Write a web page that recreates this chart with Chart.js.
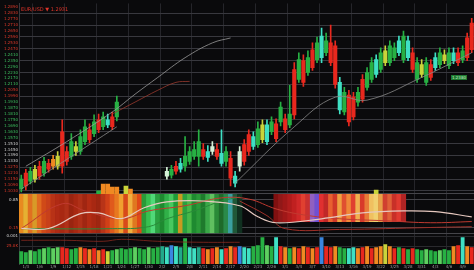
<!DOCTYPE html>
<html>
<head>
<meta charset="utf-8">
<script src="https://cdn.jsdelivr.net/npm/chart.js@4.4.0/dist/chart.umd.min.js"></script>
<style>
html, body { margin: 0; padding: 0; background: #0a0a0c; overflow: hidden; }
#wrap { position: relative; width: 474px; height: 270px; }
#tag { position: absolute; left: 21px; top: 6px; font: 5px "DejaVu Sans", sans-serif; color: #e0352a; white-space: nowrap; }
#last { position: absolute; left: 451px; top: 75px; font: 4px "DejaVu Sans", sans-serif; color: #c8f0c8;
    background: #1e7a30; padding: 0 1px; white-space: nowrap; }
</style>
</head>
<body>
<div id="wrap">
  <canvas id="chart" width="474" height="270"></canvas>
  <div id="tag">EUR/USD ▼ 1.2931</div>
  <div id="last">1.2380</div>
</div>
<script>
// categories: one per trading session
const categories = Array.from({ length: 100 }, (_, i) => {
    const d = new Date(2023, 0, 2 + i);
    return (d.getMonth() + 1) + "/" + d.getDate();
});

// candles (price units), null = no candle
const openP = [5, 21, 13, 15, 28, 21, 31, 28, 28, 63, 43, 38, 43, 43, 53, 65, 61, 75, 68, 70, 78, 78,
    null, null, null, null, null, null, null, null, null, null,
    18, 19, 28, 25, 28, 33, 38, 38, 45, 37, 43, 45, 31, 33, 36, 11, 28, 50, 60, 48,
    50, 55, 53, 63, 71, 73, 76, 70, 126, 116, 135, 123, 146, 136, 138, 143, 153, 150, 85, 83,
    100, 98, 93, 116, 108, 116, 121, 126, 133, 133, 138, 143, 136, 138, 143, 116, 121, 113, 131, 128,
    131, 135, 130, 135, 143, 136, 158, 173];
const closeP = [15, 8, 23, 25, 18, 33, 25, 35, 38, 28, 33, 53, 48, 58, 68, 55, 73, 65, 78, 75, 68, 93,
    null, null, null, null, null, null, null, null, null, null,
    23, 25, 23, 31, 38, 43, 45, 53, 38, 43, 48, 38, 41, 43, 16, 18, 43, 33, 43, 58,
    66, 70, 70, 73, 56, 88, 65, 81, 80, 136, 113, 138, 128, 153, 160, 155, 133, 111, 113, 103,
    73, 78, 103, 96, 123, 133, 136, 143, 145, 150, 148, 155, 160, 155, 126, 133, 131, 133, 118, 138,
    143, 141, 143, 143, 133, 145, 138, 146];
const highP = [19, 25, 27, 29, 33, 37, 35, 39, 43, 75, 48, 61, 53, 65, 75, 71, 80, 81, 83, 81, 83, 99,
    null, null, null, null, null, null, null, null, null, null,
    27, 29, 33, 36, 58, 48, 53, 65, 51, 49, 53, 51, 65, 48, 43, 23, 48, 55, 65, 63,
    73, 75, 75, 78, 76, 93, 81, 110, 133, 143, 141, 145, 153, 159, 168, 163, 171, 155, 118, 108,
    105, 103, 108, 121, 128, 138, 141, 148, 150, 155, 153, 160, 165, 160, 148, 138, 136, 138, 136, 143,
    148, 146, 148, 148, 148, 150, 163, 178];
const lowP = [2, 4, 10, 12, 15, 18, 22, 25, 25, 21, 29, 35, 39, 40, 50, 52, 58, 62, 65, 67, 65, 74,
    null, null, null, null, null, null, null, null, null, null,
    15, 16, 20, 22, 23, 30, 35, 28, 35, 33, 40, 35, 28, 28, 8, 7, 23, 29, 39, 45,
    47, 52, 50, 60, 53, 69, 62, 67, 76, 113, 109, 120, 125, 133, 133, 140, 130, 107, 81, 80,
    69, 75, 89, 93, 105, 113, 118, 123, 130, 130, 135, 140, 133, 135, 123, 113, 118, 110, 115, 125,
    128, 132, 127, 132, 130, 133, 135, 143];
const candleKind = ("GRGYRGROYRRGYGGRGRGCRG" + ".........." +
    "WGRCGGGGRC" + "WRCGRCWRRC" + "GYCGRGRGRG" + "RGRGCGRRCG" +
    "RRGRGGCGYG" + "GCGCRGYGRC" + "GYGCRGRR").split("");

// small bars sitting on the bottom of the price pane
const overlayIdx = [17, 18, 19, 20, 21, 23, 24, 78];
const overlayVal = [3, 10, 10, 7, 7, 8, 5, 4];
const overlayKind = ["G", "O", "O", "O", "O", "Y", "O", "Y"];

// moving average / channel lines: [category index, price]
const maUpper = [[1, 28], [10, 53], [20, 83], [25, 101], [30, 118], [36, 138], [42, 153], [46, 158]];
const maRed = [[20, 81], [25, 93], [30, 105], [34, 113], [37, 114]];
const supportLeft = [[0, 5], [10, 35], [21, 68]];
const supportRight = [[47, 11], [60, 68], [69, 98], [76, 95], [88, 118], [99, 143]];

// oscillator band (0..1)
const bandColors = ["#e88a20", "#e6b032", "#e07020", "#d89a28", "#e06a20", "#d04a18", "#c8401a", "#b83216", "#b02a14", "#a82812",
    "#b03018", "#9a2410", "#a82812", "#b03018", "#a02612", "#b22c14", "#a82812", "#9e2611", "#b83418", "#d04018",
    "#e05a1c", "#e87820", "#f0a030", "#d84a1a", "#f0b040", "#e07820", "#e04a18", "#2a9a38", "#38c050", "#50d878",
    "#2aa040", "#1e8a30", "#30b048", "#48c860", "#1e9a38", "#c89a20", "#2aa040", "#48b848", "#1e8a30", "#2a9a38",
    "#1e7a2c", "#3aa848", "#60c060", "#2a8a38", "#1e6a2a", "#2a8a4a", "#3aa0a0", "#205838", "#103020", null,
    null, null, null, null, null, null, "#801010", "#901818", "#a01818", "#b01c1c",
    "#c02020", "#d02828", "#e04030", "#c83030", "#9060c0", "#7050d0", "#e03030", "#c02828", "#e86030", "#d03828",
    "#f0a040", "#e05030", "#f08838", "#e04030", "#f0b050", "#d83a2a", "#e87a38", "#f0c060", "#f0d070", "#e8a048",
    "#d04030", "#e06038", "#c83028", "#e03a30", "#b02424", null, null, null, null, null,
    null, null, null, null, null, null, null, null, null, null];
const bandFloor = [0, 0.3];   // left block reaches the pane bottom, right block stops higher
const bandPale = [[0, .125], [6, .125], [13, .5], [17, .52], [22, .375], [27, .65], [32, .8], [40, .82], [48, .7],
    [52, .42], [56, .27], [66, .37], [75, .52], [84, .57], [91, .55], [99, .42]];
const bandRed = [[0, .125], [9, .75], [14, .57], [22, .37], [28, .57], [36, .7], [44, .9], [50, .87], [56, .62],
    [62, .47], [70, .37], [80, .32], [90, .27], [99, .3]];
const bandGreen = [[0, .12], [20, .12], [28, .17], [32, .37], [38, .57], [44, .82], [48, .92]];
const bandRed2 = [[48, .82], [54, .45], [58, .12], [70, .1], [90, .15], [99, .17]];

// volume
const volume = [13, 12, 14, 13, 15, 16, 17, 16, 17, 17, 16, 15, 16, 17, 16, 15, 16, 14, 15, 13,
    14, 15, 16, 15, 16, 17, 16, 15, 17, 16, 17, 18, 17, 19, 18, 17, 26, 17, 16, 17,
    16, 15, 16, 17, 15, 16, 18, 17, 18, 17, 16, 18, 19, 27, 19, 18, 27, 18, 17, 16,
    17, 16, 18, 17, 16, 17, 27, 18, 17, 18, 17, 16, 16, 17, 16, 17, 18, 16, 17, 18,
    20, 18, 16, 17, 16, 15, 16, 15, 14, 15, 14, 13, 14, 15, 14, 18, 19, 27, 18, 17];
const volumeKind = ("GGLGG" + "LGLL" + "RR" + "GG" + "OROROR" + "Y" + "GLGG" + "GLGGLGG" + "TCBCTG" + "CCT" +
    "ROROCROR" + "BCC" + "GGGLGC" + "RO" + "G" + "OROROR" + "B" + "RRO" + "GG" + "CC" + "ORORO" + "OYO" +
    "RGRGR" + "GGLGGLGG" + "ORCOR").split("");
const volumeLine = [[0, 24], [10, 24], [18, 23], [22, 25], [30, 23], [40, 22], [48, 22]];

const pal = { G: "#27b043", R: "#e8281e", C: "#3fe0c4", Y: "#c9d43a", O: "#f08a22", W: "#d6f2d8",
    L: "#5ed060", T: "#22a88a", B: "#3a86e0" };

const pts = arr => arr.map(p => ({ x: categories[p[0]], y: p[1] }));

function lineSet(data, color, axis, width) {
    return {
        type: "line", data: pts(data), yAxisID: axis, borderColor: color, borderWidth: width,
        pointRadius: 0, tension: 0.4, spanGaps: true, fill: false
    };
}

const tickFont = { family: "DejaVu Sans", size: 4 };

function priceColor(ctx) {
    const v = ctx.tick.value;
    if (v > 141) return "#e03a2a";
    if (v > 110) return "#3ec060";
    if (v > 96) return "#e03a2a";
    if (v > 52) return "#3ec060";
    if (v > 28) return "#d8d8d8";
    return "#e03a2a";
}

const ctx = document.getElementById("chart").getContext("2d");
new Chart(ctx, {
    data: {
        labels: categories,
        datasets: [
            lineSet(maUpper, "#9a9a9a", "price", 0.8),
            lineSet(maRed, "#9a3a2e", "price", 0.8),
            lineSet(supportLeft, "#8a8a8a", "price", 0.8),
            lineSet(supportRight, "#8a8a8a", "price", 0.8),
            lineSet(bandPale, "#e6c8bf", "band", 1.2),
            lineSet(bandRed, "#c03a30", "band", 1),
            lineSet(bandGreen, "#2a8a3a", "band", 1),
            lineSet(bandRed2, "#a03028", "band", 1),
            lineSet(volumeLine, "#8a2a20", "vol", 0.8),
            {
                type: "bar", yAxisID: "price", grouped: false, barThickness: 3.5,
                data: openP.map((o, i) => o === null ? null : [o, closeP[i]]),
                backgroundColor: candleKind.map(k => pal[k] || "transparent")
            },
            {
                type: "bar", yAxisID: "price", grouped: false, barThickness: 1,
                data: lowP.map((l, i) => l === null ? null : [l, highP[i]]),
                backgroundColor: candleKind.map(k => pal[k] || "transparent")
            },
            {
                type: "bar", yAxisID: "price", grouped: false, barThickness: 4,
                data: overlayIdx.map((idx, i) => ({ x: categories[idx], y: [0, overlayVal[i]] })),
                backgroundColor: overlayKind.map(k => pal[k])
            },
            {
                type: "bar", yAxisID: "band", grouped: false, barPercentage: 1, categoryPercentage: 1,
                data: bandColors.map((c, i) => c === null ? null : [i < 50 ? bandFloor[0] : bandFloor[1], 1]),
                backgroundColor: bandColors.map(c => c || "transparent")
            },
            {
                type: "bar", yAxisID: "vol", grouped: false, barPercentage: 0.85, categoryPercentage: 1,
                data: volume,
                backgroundColor: volumeKind.map(k => pal[k])
            }
        ]
    },
    options: {
        responsive: false,
        animation: false,
        layout: { padding: 0 },
        plugins: { legend: { display: false }, tooltip: { enabled: false } },
        scales: {
            x: {
                type: "category", offset: true,
                border: { display: false },
                grid: { color: c => c.index % 7 === 3 ? "#25252a" : "rgba(0,0,0,0)", drawTicks: false },
                ticks: {
                    autoSkip: false, maxRotation: 0, padding: 1, color: "#9a9a9a", font: tickFont,
                    callback: (v, i) => i % 3 === 1 ? categories[i] : ""
                },
                afterFit: s => { s.height = 6; }
            },
            vol: {
                position: "left", stack: "panes", stackWeight: 31, min: 0, max: 31,
                border: { color: "#3a3a3e" },
                grid: { color: "#2a2a2e", drawTicks: false },
                afterBuildTicks: s => { s.ticks = [{ value: 18 }, { value: 28 }]; },
                ticks: { autoSkip: false, padding: 1, font: tickFont, color: c => c.tick.value > 20 ? "#d8d8d8" : "#e03a2a",
                    callback: v => v > 20 ? "0.001" : "25.0K" },
                afterFit: s => { s.width = 19; }
            },
            band: {
                position: "left", stack: "panes", stackWeight: 40, min: 0, max: 1,
                border: { color: "#3a3a3e" },
                grid: { color: "#45454a", drawTicks: false },
                afterBuildTicks: s => { s.ticks = [{ value: 0 }, { value: 0.15 }, { value: 0.85 }, { value: 1 }]; },
                ticks: { autoSkip: false, padding: 1, font: tickFont, color: c => c.tick.value > 0.5 ? "#d8d8d8" : "#e03a2a",
                    callback: v => (v === 0 || v === 1) ? "" : v.toFixed(2) },
                afterFit: s => { s.width = 19; }
            },
            price: {
                position: "left", stack: "panes", stackWeight: 193, min: 0, max: 193,
                border: { color: "#3a3a3e" },
                grid: { color: c => (c.tick && (c.tick.value - 3) % 12 === 0) ? "#38383e" : "rgba(0,0,0,0)", drawTicks: false },
                afterBuildTicks: s => {
                    const t = [];
                    for (let v = 3; v <= 189; v += 6) t.push({ value: v });
                    s.ticks = t;
                },
                ticks: { autoSkip: false, padding: 1, font: tickFont, color: priceColor, callback: v => (1.1 + v / 1000).toFixed(4) },
                afterFit: s => { s.width = 19; }
            }
        }
    }
});
</script>
</body>
</html>
